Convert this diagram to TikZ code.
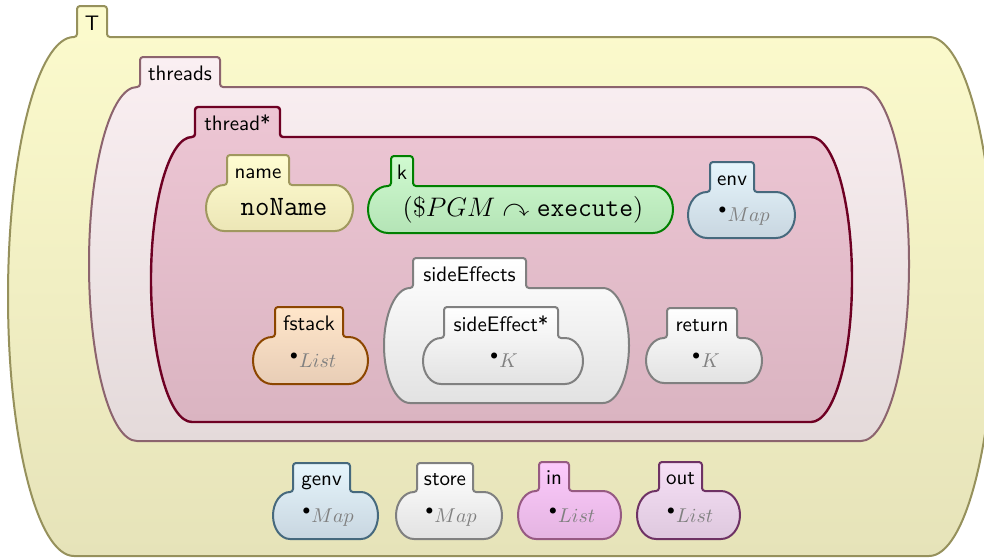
\documentclass[tikz,border=0pt]{standalone}
\usepackage{amssymb}
\begin{document}

% cell palettes: stroke, top of gradient, bottom of gradient
\definecolor{Tdraw}{RGB}{150,145,92}   \definecolor{Ttop}{RGB}{252,251,205}  \definecolor{Tbot}{RGB}{230,227,185}
\definecolor{thsdraw}{RGB}{140,100,110}\definecolor{thstop}{RGB}{250,239,242}\definecolor{thsbot}{RGB}{228,218,218}
\definecolor{thdraw}{RGB}{110,0,35}    \definecolor{thtop}{RGB}{237,198,212} \definecolor{thbot}{RGB}{218,180,193}
\definecolor{namedraw}{RGB}{160,152,95}\definecolor{nametop}{RGB}{255,253,210}\definecolor{namebot}{RGB}{236,230,182}
\definecolor{kdraw}{RGB}{0,128,0}      \definecolor{ktop}{RGB}{208,250,208}  \definecolor{kbot}{RGB}{180,228,182}
\definecolor{envdraw}{RGB}{70,105,125} \definecolor{envtop}{RGB}{230,245,252}\definecolor{envbot}{RGB}{200,214,224}
\definecolor{fsdraw}{RGB}{140,70,0}    \definecolor{fstop}{RGB}{255,230,202} \definecolor{fsbot}{RGB}{232,205,182}
\definecolor{gdraw}{RGB}{128,128,128}  \definecolor{gtop}{RGB}{255,255,255}  \definecolor{gbot}{RGB}{226,226,226}
\definecolor{indraw}{RGB}{150,90,130}  \definecolor{intop}{RGB}{252,202,252} \definecolor{inbot}{RGB}{228,180,225}
\definecolor{outdraw}{RGB}{110,50,100} \definecolor{outtop}{RGB}{246,224,246}\definecolor{outbot}{RGB}{222,200,222}
\definecolor{sortgray}{RGB}{128,128,128}

% #1 style, #2 tab left, #3 tab right, #4 tab top, #5 body top, #6 body bottom, #7 left extreme, #8 right extreme
\newcommand\kcell[8]{%
  \pgfmathsetmacro\kLc{#2-3}%
  \pgfmathsetmacro\kExt{\kLc-#7}%
  \pgfmathsetmacro\kRc{#8-\kExt}%
  \pgfmathsetmacro\kMid{(#5+#6)/2}%
  \pgfmathsetmacro\kCx{0.552*\kExt}%
  \pgfmathsetmacro\kCy{0.552*(#6-#5)/2}%
  \path[cellpath,#1] (\kLc,#5) .. controls (#2-1.35,#5) and (#2,#5-1.35) .. (#2,#5-3)
    -- (#2,#4+3) .. controls (#2,#4+1.35) and (#2+1.35,#4) .. (#2+3,#4)
    -- (#3-3,#4) .. controls (#3-1.35,#4) and (#3,#4+1.35) .. (#3,#4+3)
    -- (#3,#5-3) .. controls (#3,#5-1.35) and (#3+1.35,#5) .. (#3+3,#5)
    -- (\kRc,#5) .. controls (\kRc+\kCx,#5) and (#8,\kMid-\kCy) .. (#8,\kMid)
    .. controls (#8,\kMid+\kCy) and (\kRc+\kCx,#6) .. (\kRc,#6)
    -- (\kLc,#6) .. controls (\kLc-\kCx,#6) and (#7,\kMid+\kCy) .. (#7,\kMid)
    .. controls (#7,\kMid-\kCy) and (\kLc-\kCx,#5) .. (\kLc,#5) -- cycle;
}
\newcommand\sortof[1]{${}^{\bullet}$\textcolor{sortgray}{$#1$}}

\begin{tikzpicture}[x=0.5pt,y=-0.5pt,
  cellpath/.style={line width=1pt,line join=round},
  cellT/.style={draw=Tdraw,top color=Ttop,bottom color=Tbot},
  cellths/.style={draw=thsdraw,top color=thstop,bottom color=thsbot},
  cellth/.style={draw=thdraw,line width=1.2pt,top color=thtop,bottom color=thbot},
  cellname/.style={draw=namedraw,top color=nametop,bottom color=namebot},
  cellk/.style={draw=kdraw,top color=ktop,bottom color=kbot},
  cellenv/.style={draw=envdraw,top color=envtop,bottom color=envbot},
  cellfs/.style={draw=fsdraw,top color=fstop,bottom color=fsbot},
  cellgray/.style={draw=gdraw,top color=gtop,bottom color=gbot},
  cellin/.style={draw=indraw,top color=intop,bottom color=inbot},
  cellout/.style={draw=outdraw,top color=outtop,bottom color=outbot},
  lbl/.style={anchor=base,inner sep=0pt,font=\fontsize{10.5}{12}\selectfont\sffamily},
  content/.style={anchor=base,inner sep=0pt,font=\normalsize}]

\useasboundingbox (0,0) rectangle (984,558);
\clip (0,0) rectangle (984,558);

% outer cells
\kcell{cellT}{77}{107}{6}{37}{556}{8}{995}
\node[lbl] (lT) at (92,30) {T};
\kcell{cellths}{140}{220}{57}{87}{441}{89}{909}
\node[lbl] (lthreads) at (180,80) {threads};
\kcell{cellth}{195}{280}{107}{137}{422}{151}{852}
\node[lbl] (lthread) at (237.5,130) {thread*};

% first row inside a thread
\kcell{cellname}{227}{289}{155}{185}{231}{206}{353}
\node[lbl] (lname) at (258,178) {name};
\node[content,font=\fontsize{14}{16}\selectfont] (cname) at (284,215) {\texttt{noName}};

\kcell{cellk}{391}{413}{156}{186}{233}{368}{673}
\node[lbl] (lk) at (402,179) {k};
\node[content,font=\large,scale=1.115] (ck) at (523,216) {$(\$PGM\curvearrowright\mathtt{execute})$};

\kcell{cellenv}{710}{754}{162}{192}{238}{688}{795}
\node[lbl] (lenv) at (732,185) {env};
\node[content] (cenv) at (744,221) {\sortof{Map}};

% second row inside a thread
\kcell{cellfs}{275}{343}{307}{337}{384}{253}{368}
\node[lbl] (lfstack) at (309,330) {fstack};
\node[content] (cfstack) at (313,367) {\sortof{List}};

\kcell{cellgray}{413}{526}{258}{288}{403}{384}{629}
\node[lbl] (lsides) at (469.5,281) {sideEffects};
\kcell{cellgray}{444}{558}{307}{338}{384}{423}{583}
\node[lbl] (lside) at (501,331) {sideEffect*};
\node[content] (cside) at (504,367) {\sortof{K}};

\kcell{cellgray}{667}{737}{308}{338}{383}{646}{762}
\node[lbl] (lreturn) at (702,331) {return};
\node[content] (creturn) at (706,367) {\sortof{K}};

% global cells
\kcell{cellenv}{293}{350}{463}{492}{539}{273}{378}
\node[lbl] (lgenv) at (321.5,485) {genv};
\node[content] (cgenv) at (328,522) {\sortof{Map}};

\kcell{cellgray}{417}{473}{463}{492}{539}{396}{502}
\node[lbl] (lstore) at (445,485) {store};
\node[content] (cstore) at (451,522) {\sortof{Map}};

\kcell{cellin}{539}{569}{462}{491}{539}{518}{621}
\node[lbl] (lin) at (554,484) {in};
\node[content] (cin) at (572,522) {\sortof{List}};

\kcell{cellout}{659}{702}{462}{491}{539}{637}{740}
\node[lbl] (lout) at (680.5,484) {out};
\node[content] (cout) at (690,522) {\sortof{List}};

\end{tikzpicture}
\end{document}
